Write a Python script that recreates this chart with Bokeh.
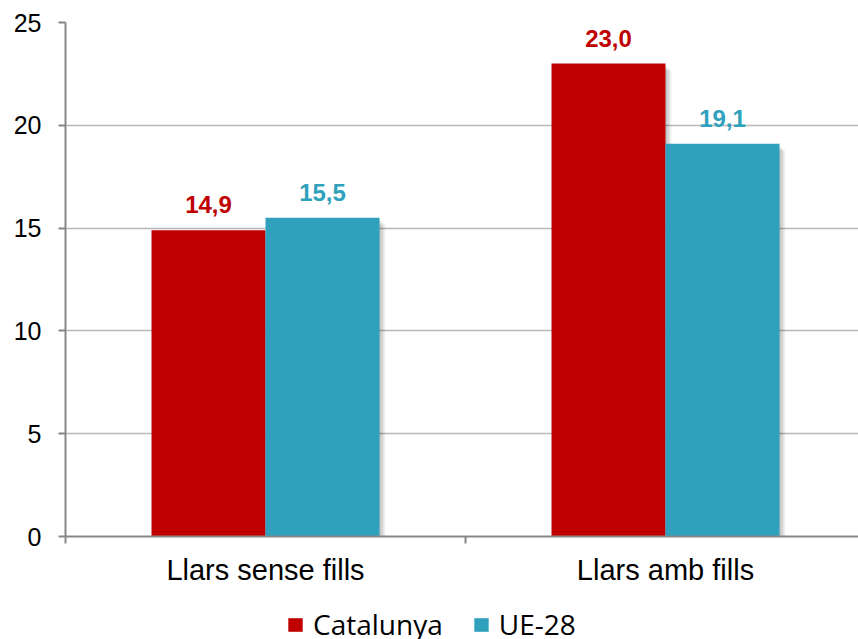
from bokeh.plotting import figure
from bokeh.models import (ColumnDataSource, FixedTicker, LabelSet, Legend,
                          LegendItem, Range1d)
from bokeh.layouts import column
from bokeh.core.properties import value
from bokeh.embed import file_html
from bokeh.resources import INLINE

# ---- data ----
categories = ["Llars sense fills", "Llars amb fills"]
series_names = ["Catalunya", "UE-28"]
catalunya = [14.9, 23.0]
ue28 = [15.5, 19.1]
value_labels_cat = ["14,9", "23,0"]
value_labels_ue = ["15,5", "19,1"]
y_ticks = [0, 5, 10, 15, 20, 25]
colors = ["#C00000", "#2FA1BD"]

# ---- layout ----
W = 858
H_main, H_leg = 600, 39
left_px, top_px, frame_h = 65, 22, 514
bottom_px = H_main - top_px - frame_h
cat_px = 400
frame_w = W - left_px
x_end = frame_w / cat_px
px_x = 1.0 / cat_px
px_y = 25.0 / frame_h
bar_w = 114 * px_x

p = figure(width=W, height=H_main, x_range=Range1d(0, x_end), y_range=Range1d(0, 25),
           output_backend="svg", toolbar_location=None,
           min_border_left=left_px, min_border_right=0,
           min_border_top=top_px, min_border_bottom=bottom_px)
p.outline_line_color = None
p.background_fill_color = "white"
p.border_fill_color = "white"

centers = [i + 0.5 for i in range(len(categories))]
x_cat = [c - bar_w / 2 for c in centers]
x_ue = [c + bar_w / 2 for c in centers]

for xs, vals, col in [(x_cat, catalunya, colors[0]), (x_ue, ue28, colors[1])]:
    # soft shadow
    for k in range(1, 7):
        p.quad(left=[x - bar_w / 2 + k * px_x for x in xs],
               right=[x + bar_w / 2 + k * px_x for x in xs],
               top=[v - (k + 1) * px_y for v in vals],
               bottom=[0] * len(vals),
               fill_color="black", fill_alpha=0.045, line_color=None)
    p.vbar(x=xs, top=vals, width=bar_w, bottom=0, fill_color=col, line_color=None)

# value labels
for xs, vals, labs, col in [(x_cat, catalunya, value_labels_cat, colors[0]),
                            (x_ue, ue28, value_labels_ue, colors[1])]:
    src = ColumnDataSource(dict(x=xs, y=vals, t=labs))
    p.add_layout(LabelSet(x="x", y="y", text="t", source=src, y_offset=17,
                          text_align="center", text_baseline="alphabetic",
                          text_font=value("Liberation Sans"), text_font_style="bold",
                          text_font_size="24px", text_color=col))

# grid
p.xgrid.grid_line_color = None
p.ygrid.ticker = FixedTicker(ticks=y_ticks)
p.ygrid.grid_line_color = "#B8B8B8"
p.ygrid.grid_line_width = 1.5

# y axis
p.yaxis.ticker = FixedTicker(ticks=y_ticks)
p.yaxis.axis_line_color = "#878787"
p.yaxis.axis_line_width = 2
p.yaxis.major_tick_line_color = "#878787"
p.yaxis.major_tick_line_width = 2
p.yaxis.major_tick_out = 7
p.yaxis.major_tick_in = 0
p.yaxis.minor_tick_line_color = None
p.yaxis.major_label_text_font = "Liberation Sans"
p.yaxis.major_label_text_font_size = "25px"
p.yaxis.major_label_text_color = "black"
p.yaxis.major_label_standoff = 17

# x axis
p.xaxis.ticker = FixedTicker(ticks=centers, minor_ticks=[0, 1, 2])
p.xaxis.major_label_overrides = {c: n for c, n in zip(centers, categories)}
p.xaxis.axis_line_color = "#878787"
p.xaxis.axis_line_width = 2
p.xaxis.major_tick_line_color = None
p.xaxis.major_tick_out = 0
p.xaxis.major_tick_in = 0
p.xaxis.minor_tick_line_color = "#878787"
p.xaxis.minor_tick_line_width = 2
p.xaxis.minor_tick_out = 7
p.xaxis.minor_tick_in = 0
p.xaxis.major_label_text_font = "Liberation Sans"
p.xaxis.major_label_text_font_size = "29px"
p.xaxis.major_label_text_color = "black"
p.xaxis.major_label_standoff = 10

# legend strip (separate figure so that it is not clipped)
pl = figure(width=W, height=H_leg, x_range=Range1d(0, 1), y_range=Range1d(0, 1),
            output_backend="svg", toolbar_location=None,
            x_axis_type=None, y_axis_type=None,
            min_border=0, min_border_left=0, min_border_right=0,
            min_border_top=0, min_border_bottom=0)
pl.outline_line_color = None
pl.xgrid.grid_line_color = None
pl.ygrid.grid_line_color = None
leg_renderers = [pl.vbar(x=[-5], top=[-5], bottom=[-6], width=0.1,
                         fill_color=c, line_color=None) for c in colors]
legend = Legend(items=[LegendItem(label=n, renderers=[r]) for n, r in zip(series_names, leg_renderers)],
                orientation="horizontal", location=(221, -4),
                label_text_font="Open Sans", label_text_font_size="28px",
                label_text_color="black", label_height=17,
                glyph_width=18, glyph_height=17, label_standoff=9, spacing=29,
                padding=0, margin=0, border_line_color=None, background_fill_alpha=0)
pl.add_layout(legend, "center")

layout = column(p, pl, spacing=0)
open("out.html", "w").write(file_html(layout, INLINE))
